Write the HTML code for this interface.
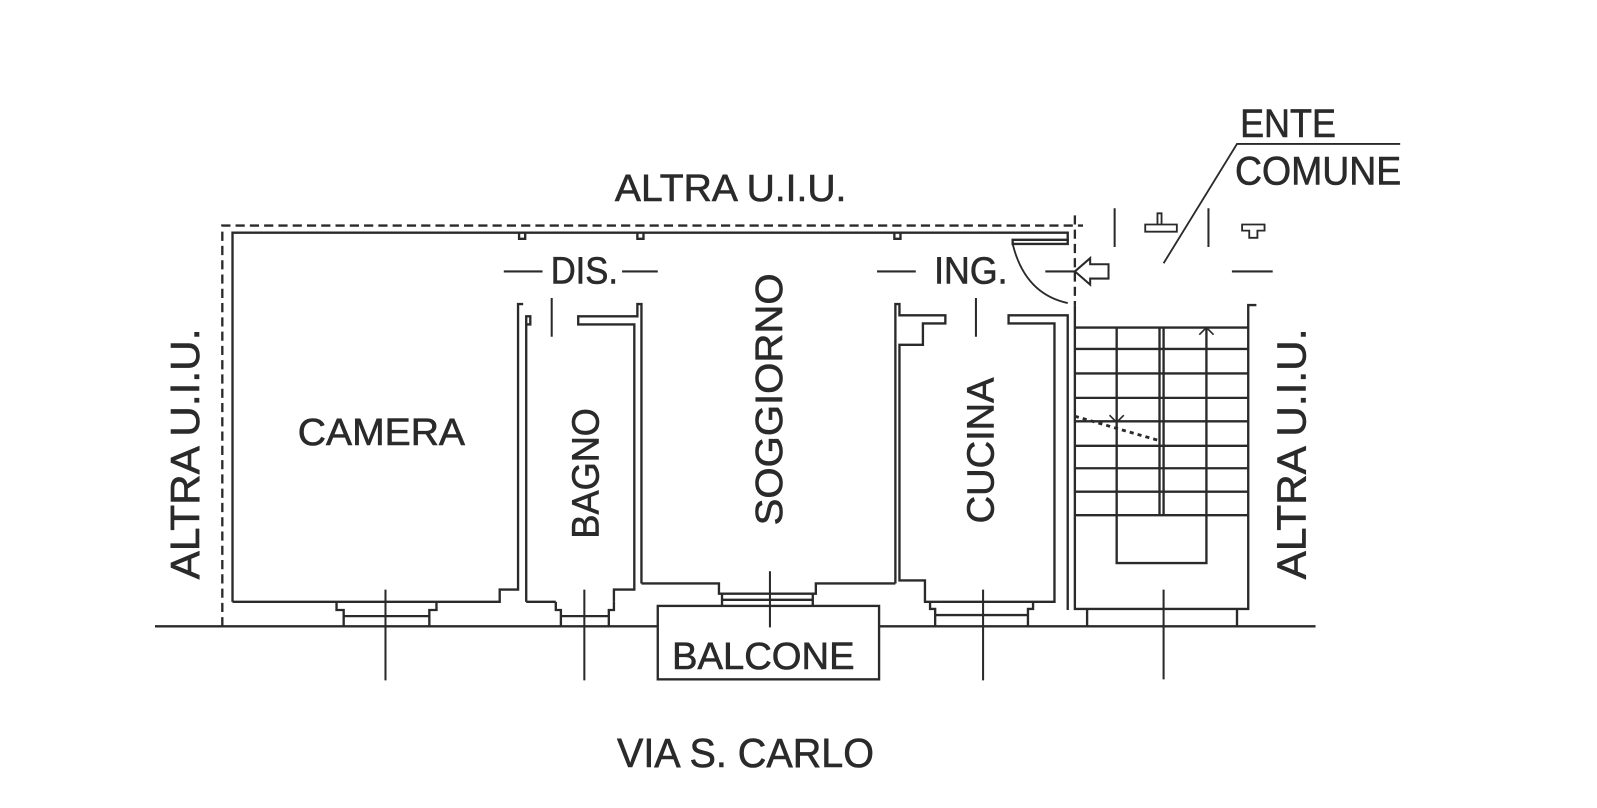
<!DOCTYPE html>
<html><head><meta charset="utf-8"><style>
html,body{margin:0;padding:0;background:#fff;}
svg{display:block;}
text{font-family:"Liberation Sans",Arial,sans-serif;fill:#2a2a2a;stroke:#2a2a2a;stroke-width:0.6;}
</style></head><body>
<svg width="1597" height="808" viewBox="0 0 1566 792" xmlns="http://www.w3.org/2000/svg">
<g fill="none" stroke="#2a2a2a" stroke-width="2.3">
<path d="M218 614 V221 H1062" stroke-dasharray="9,5"/>
<path d="M1054 211 V299" stroke-dasharray="9,5"/>
<path d="M228 590 V228 H1047 V236"/>
<path d="M509 228 v6 h6 v-6 M625 228 v6 h6 v-6 M877 228 v6 h6 v-6"/>
<path d="M152 614 H645 M862 614 H1290"/>
<path d="M228 590 H490 V578 H508 V298 h5"/>
<path d="M516 590 V310 h4 v8 h-4"/>
<path d="M516 590 H545 M602 590 V578 H622 V318 H567 V310 H625 V298 H629 V572"/>
<path d="M330 590 v8 h7 v16 M421 614 v-16 h7 v-8 M337 604 H421"/>
<path d="M545 590 v8 h5 v16 M597 614 v-16 h5 v-8 M550 604 H597"/>
<path d="M629 572 H705 V582 H800 V572 H878 M708 582 V594 M797 582 V594 M708 588 H797"/>
<path d="M878 572 V298 h4 V309 H927 V317 H905 V338 H882 V569 H907 V590 H1034 V317 H989 V309 H1047 V598"/>
<path d="M912 590 v7 h5 v17 M1008 614 v-17 h5 v-7 M917 603 H1008"/>
<path d="M993 235 H1047 V239 H993 Z"/>
<path d="M993 239 Q1005 288 1047 297" stroke-width="1.8"/>
<path d="M1054 266 L1069 253 V259 H1087 V273 H1069 V279 Z" stroke-width="2"/>
<path d="M1054 299 V597 H1224 V299 h8"/>
<path d="M1054 321 H1224 M1054 342 H1224 M1054 366 H1224 M1054 390 H1224 M1054 413 H1224 M1054 437 H1224 M1054 459 H1224 M1054 482 H1224 M1054 505 H1224"/>
<path d="M1095 321 V552 H1183 V321 M1137 321 V505 M1141 321 V505"/>
<path d="M1088 407 l7 7 l7 -7 M1176 328 l7 -7 l7 7" stroke-width="1.6"/>
<path d="M1054 408 L1137 432" stroke-dasharray="4,4" stroke-width="2.8"/>
<path d="M1066 597 V614 M1213 597 V614"/>
<path d="M378 578 V667 M573 578 V667 M755 560 V615 M964 578 V667 M1141 578 V666" stroke-width="2"/>
<path d="M541 292 V330 M957 292 V330" stroke-width="2"/>
<path d="M494 266 H532 M610 266 H645 M860 266 H898 M1025 266 H1055 M1208 266 H1248" stroke-width="2"/>
<path d="M1093 204 V242 M1185 204 V242" stroke-width="2"/>
<path d="M1123 220 H1154 V227 H1123 Z M1135 220 V209 H1139 V220" stroke-width="1.8"/>
<path d="M1218 220 H1240 V226 H1233 V233 H1225 V226 H1218 Z" stroke-width="1.8"/>
<path d="M1141 258 L1213 141 H1373" stroke-width="1.8"/>
<rect x="645" y="594" width="217" height="72"/>
</g>
<text x="603" y="197" font-size="37" textLength="227" lengthAdjust="spacingAndGlyphs">ALTRA U.I.U.</text>
<text x="1216" y="134" font-size="39" textLength="94" lengthAdjust="spacingAndGlyphs">ENTE</text>
<text x="1211" y="181" font-size="39" textLength="163" lengthAdjust="spacingAndGlyphs">COMUNE</text>
<text x="540" y="278" font-size="37" textLength="66" lengthAdjust="spacingAndGlyphs">DIS.</text>
<text x="916" y="278" font-size="37" textLength="72" lengthAdjust="spacingAndGlyphs">ING.</text>
<text x="292" y="436" font-size="37" textLength="164" lengthAdjust="spacingAndGlyphs">CAMERA</text>
<text x="659" y="656" font-size="37" textLength="179" lengthAdjust="spacingAndGlyphs">BALCONE</text>
<text x="605" y="752" font-size="40" textLength="252" lengthAdjust="spacingAndGlyphs">VIA S. CARLO</text>
<text transform="translate(195,568) rotate(-90)" font-size="40" textLength="246" lengthAdjust="spacingAndGlyphs">ALTRA U.I.U.</text>
<text transform="translate(1280,568) rotate(-90)" font-size="40" textLength="246" lengthAdjust="spacingAndGlyphs">ALTRA U.I.U.</text>
<text transform="translate(587,528) rotate(-90)" font-size="37" textLength="128" lengthAdjust="spacingAndGlyphs">BAGNO</text>
<text transform="translate(767,515) rotate(-90)" font-size="37" textLength="247" lengthAdjust="spacingAndGlyphs">SOGGIORNO</text>
<text transform="translate(974,513) rotate(-90)" font-size="37" textLength="143" lengthAdjust="spacingAndGlyphs">CUCINA</text>
</svg>
</body></html>
